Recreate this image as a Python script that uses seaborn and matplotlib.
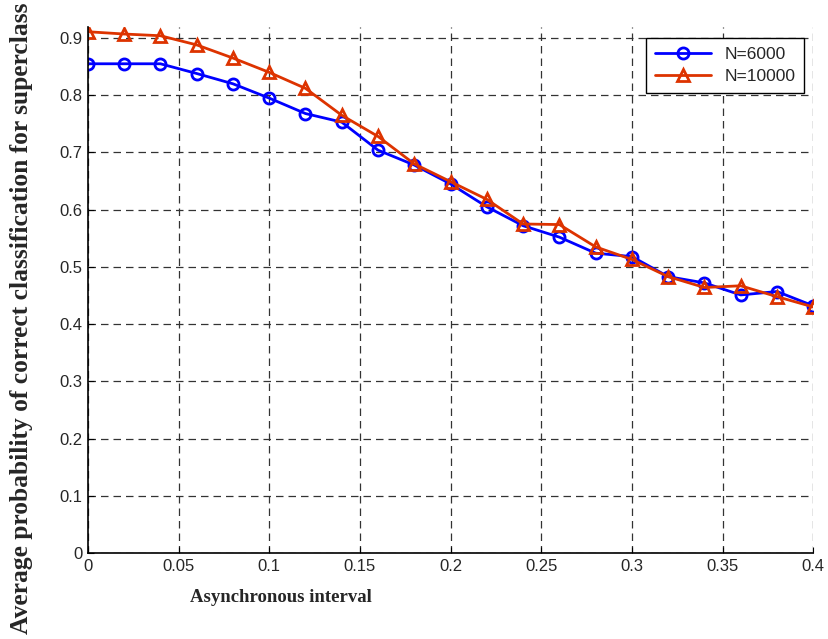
import matplotlib
matplotlib.use("Agg")
import matplotlib.pyplot as plt
import pandas as pd
import seaborn as sns

# asynchronous interval values (x axis)
intervals = [0.00, 0.02, 0.04, 0.06, 0.08, 0.10, 0.12, 0.14, 0.16, 0.18, 0.20,
             0.22, 0.24, 0.26, 0.28, 0.30, 0.32, 0.34, 0.36, 0.38, 0.40]
# average probability of correct superclass classification
prob_n6000 = [0.855, 0.855, 0.855, 0.838, 0.820, 0.795, 0.768, 0.753, 0.704, 0.678, 0.645,
              0.605, 0.572, 0.552, 0.524, 0.518, 0.483, 0.472, 0.451, 0.457, 0.432]
prob_n10000 = [0.911, 0.907, 0.904, 0.888, 0.865, 0.840, 0.812, 0.765, 0.728, 0.680, 0.649,
               0.618, 0.575, 0.574, 0.535, 0.513, 0.483, 0.464, 0.467, 0.448, 0.430]
series_labels = ["N=6000", "N=10000"]
x_ticks = [0, 0.05, 0.1, 0.15, 0.2, 0.25, 0.3, 0.35, 0.4]
y_ticks = [0, 0.1, 0.2, 0.3, 0.4, 0.5, 0.6, 0.7, 0.8, 0.9]

sns.set_style("white")
plt.rcParams["font.family"] = ["Liberation Sans", "DejaVu Sans"]

fig = plt.figure(figsize=(8.29, 6.39), dpi=100)
ax = fig.add_axes([0.106, 0.1346, 0.875, 0.8238])

styles = [("#0000FF", "o", 8), ("#DD3300", "^", 9)]
for label, values, (color, marker, msize) in zip(series_labels, [prob_n6000, prob_n10000], styles):
    df = pd.DataFrame({"interval": intervals, "prob": values})
    sns.lineplot(data=df, x="interval", y="prob", ax=ax, color=color, lw=2.0,
                 marker=marker, markersize=msize, markerfacecolor="none",
                 markeredgecolor=color, markeredgewidth=2.0, label=label)

ax.set_xlim(0, 0.4)
ax.set_ylim(0, 0.92)
ax.set_xticks(x_ticks)
ax.set_xticklabels([f"{t:g}" for t in x_ticks])
ax.set_yticks(y_ticks)
ax.set_yticklabels([f"{t:g}" for t in y_ticks])
ax.tick_params(axis="both", labelsize=12, direction="in", length=4, color="black",
               bottom=True, left=True, pad=4)

ax.grid(True, color="#333333", linestyle=(0, (6, 4)), linewidth=0.9)
for side in ["top", "right"]:
    ax.spines[side].set_visible(False)
for side in ["left", "bottom"]:
    ax.spines[side].set_color("black")
    ax.spines[side].set_linewidth(1.2)

ax.set_xlabel("Asynchronous interval", family="Liberation Serif", fontweight="bold",
              fontsize=13.5)
ax.xaxis.set_label_coords(0.266, -0.068)
ax.set_ylabel("Average probability of correct classification for superclass",
              family="Liberation Serif", fontweight="bold", fontsize=18.4)
ax.yaxis.set_label_coords(-0.075, 0.445)

leg = ax.legend(loc="upper right", bbox_to_anchor=(0.9876, 0.9777), borderaxespad=0,
                fancybox=False, framealpha=1, edgecolor="black", fontsize=12.5,
                handlelength=3.2, borderpad=0.5, labelspacing=0.4)
leg.get_frame().set_linewidth(1.0)

fig.savefig("out.png", dpi=100)
